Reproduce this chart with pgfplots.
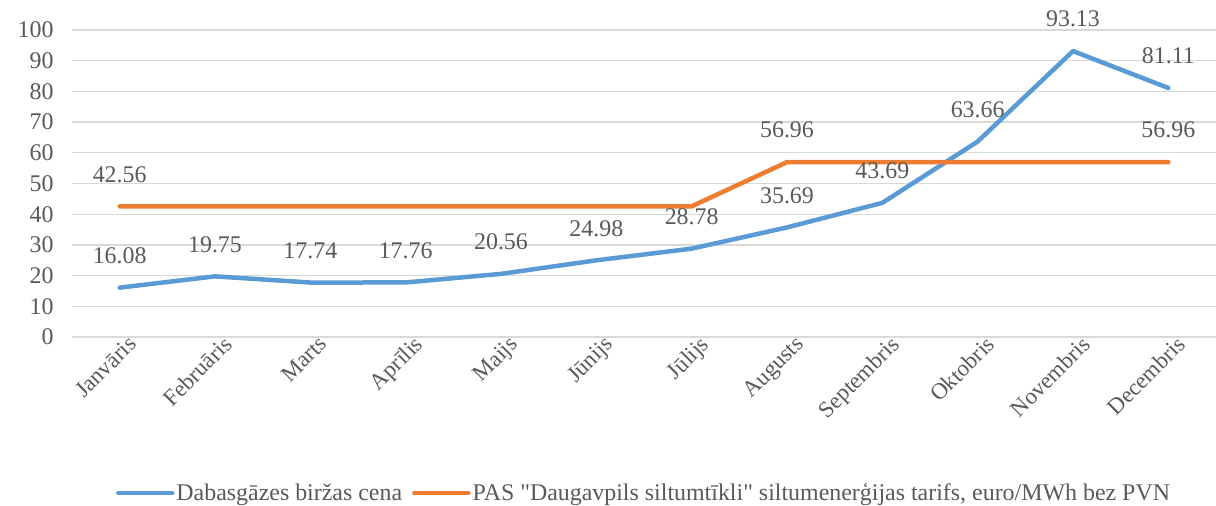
\documentclass[border=0pt]{standalone}
\usepackage{fontspec}
\setmainfont{Liberation Serif}[Ligatures=TeXOff]
\usepackage{pgfplots}
\pgfplotsset{compat=1.18}
\definecolor{cblue}{HTML}{5B9BD5}
\definecolor{corange}{HTML}{ED7D31}
\definecolor{ctext}{HTML}{595959}
\definecolor{cgrid}{HTML}{D9D9D9}
\newcommand{\lblfont}{\fontsize{24}{28}\selectfont}
\begin{document}
\begin{tikzpicture}[x=1bp,y=1bp]
\begin{axis}[
  at={(0,0)}, anchor=south west,
  scale only axis, width=1144bp, height=307bp,
  xmin=-0.5, xmax=11.5, ymin=0, ymax=100,
  ytick={0,10,...,100},
  xtick={0,...,11},
  xticklabels={Janvāris,Februāris,Marts,Aprīlis,Maijs,Jūnijs,Jūlijs,Augusts,Septembris,Oktobris,Novembris,Decembris},
  x tick label style={rotate=45, anchor=north east, font=\fontsize{23}{27}\selectfont, text=ctext, xshift=10bp, yshift=0bp},
  y tick label style={font=\lblfont, text=ctext, xshift=-15bp},
  /pgf/number format/assume math mode=true,
  ymajorgrids, grid style={cgrid, line width=1.3bp},
  major tick length=0pt,
  axis line style={draw=none},
  legend style={at={(0.5,-0.508)}, anchor=center, draw=none, fill=none,
    legend columns=2, font=\lblfont, text=ctext,
    /tikz/every even column/.append style={column sep=8bp}},
  legend image code/.code={\draw[#1, line width=4.5bp, line cap=round] (0,0) -- (54bp,0);},
  nodes near coords={\pgfmathprintnumber[fixed,fixed zerofill,precision=2]{\pgfplotspointmeta}},
  every node near coord/.append style={text=ctext, font=\lblfont, anchor=center, yshift=32bp},
]
\addplot[cblue, line width=4.5bp, line cap=round, line join=round, mark=none]
  coordinates {(0,16.08) (1,19.75) (2,17.74) (3,17.76) (4,20.56) (5,24.98) (6,28.78) (7,35.69) (8,43.69) (9,63.66) (10,93.13) (11,81.11)};
\addlegendentry{Dabasgāzes biržas cena}
\addplot[corange, line width=4.5bp, line cap=round, line join=round, mark=none, nodes near coords={}]
  coordinates {(0,42.56) (1,42.56) (2,42.56) (3,42.56) (4,42.56) (5,42.56) (6,42.56) (7,56.96) (8,56.96) (9,56.96) (10,56.96) (11,56.96)};
\addlegendentry{PAS "Daugavpils siltumtīkli" siltumenerģijas tarifs, euro/MWh bez PVN}
\addplot[draw=none, mark=none, forget plot]
  coordinates {(0,42.56) (7,56.96) (11,56.96)};
\end{axis}
\pgfresetboundingbox
\path[use as bounding box] (-72,-169) rectangle (1144,337);
\end{tikzpicture}
\end{document}
